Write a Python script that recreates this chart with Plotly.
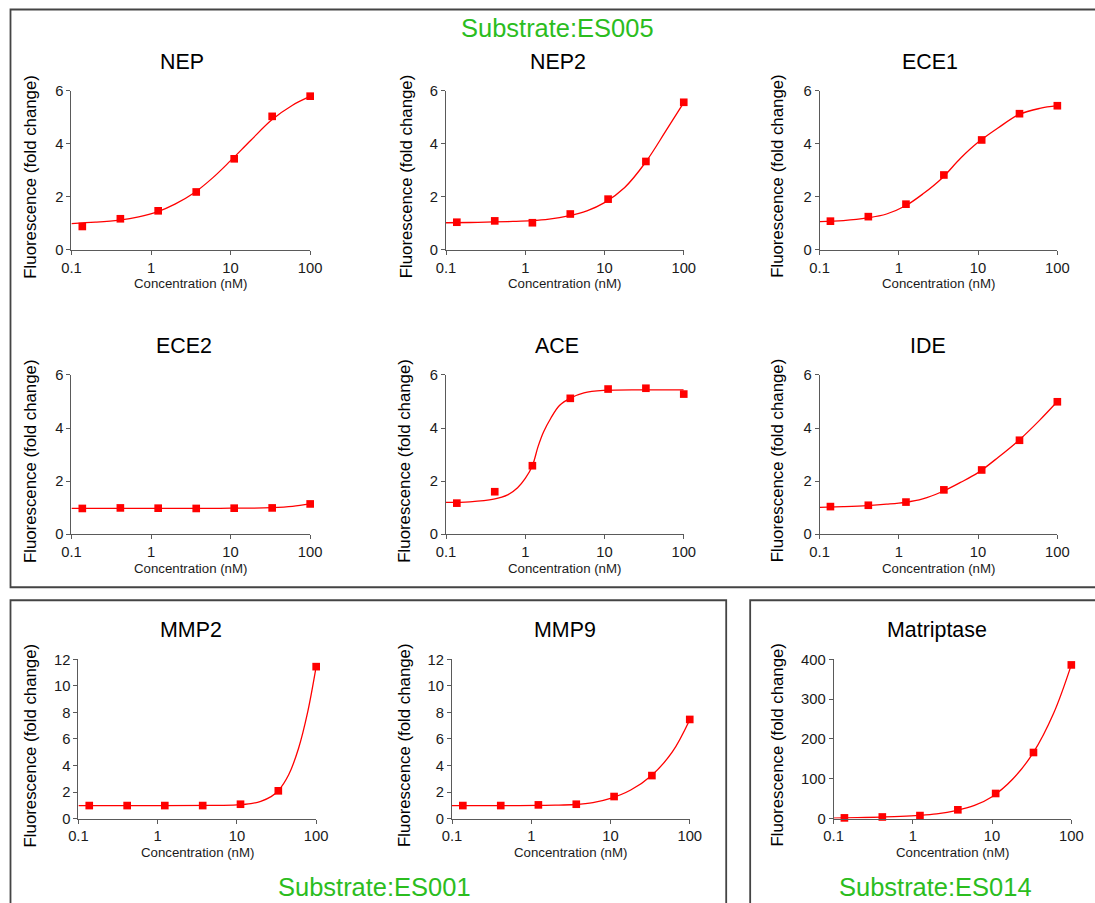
import plotly.graph_objects as go

# ---------------- data ----------------
CONC = [0.137, 0.412, 1.23, 3.70, 11.1, 33.3, 100]
FIT_X = [0.1, 0.2, 0.4, 0.7, 1.2, 2, 3.5, 6, 10, 18, 33, 60, 100]

NEP_Y = [0.88, 1.17, 1.47, 2.18, 3.43, 5.03, 5.79]
NEP_FIT = [0.99, 1.04, 1.12, 1.24, 1.43, 1.72, 2.15, 2.72, 3.36, 4.13, 4.90, 5.45, 5.78]

NEP2_Y = [1.04, 1.09, 1.02, 1.35, 1.91, 3.33, 5.56]
NEP2_FIT = [1.02, 1.03, 1.05, 1.07, 1.10, 1.16, 1.28, 1.47, 1.78, 2.35, 3.30, 4.50, 5.55]

ECE1_Y = [1.08, 1.25, 1.72, 2.82, 4.14, 5.13, 5.43]
ECE1_FIT = [1.06, 1.10, 1.20, 1.35, 1.65, 2.10, 2.70, 3.45, 4.05, 4.60, 5.10, 5.33, 5.43]

ECE2_Y = [0.97, 0.99, 0.98, 0.97, 0.98, 0.99, 1.14]
ECE2_FIT = [0.97, 0.97, 0.97, 0.97, 0.97, 0.97, 0.97, 0.97, 0.98, 0.98, 1.00, 1.05, 1.14]

ACE_Y = [1.17, 1.60, 2.58, 5.12, 5.47, 5.50, 5.28]
ACE_FIT_X = [0.1, 0.2, 0.4, 0.6, 0.8, 1.0, 1.23, 1.45, 1.7, 2.1, 2.7, 3.7, 5.5, 10, 30, 100]
ACE_FIT = [1.20, 1.22, 1.32, 1.48, 1.75, 2.10, 2.58, 3.30, 3.85, 4.37, 4.85, 5.13, 5.33, 5.42, 5.44, 5.44]

IDE_Y = [1.04, 1.09, 1.21, 1.67, 2.42, 3.54, 4.99]
IDE_FIT = [1.01, 1.04, 1.08, 1.13, 1.20, 1.33, 1.60, 1.95, 2.32, 2.90, 3.55, 4.30, 5.00]

MMP2_Y = [0.98, 0.98, 0.98, 0.98, 1.08, 2.09, 11.45]
MMP2_FIT_X = [0.1, 1, 5, 10, 15, 20, 27, 33.3, 45, 60, 78, 100]
MMP2_FIT = [0.98, 0.98, 0.99, 1.03, 1.12, 1.30, 1.65, 2.10, 3.30, 5.30, 8.00, 11.45]

MMP9_Y = [0.98, 0.98, 1.03, 1.08, 1.66, 3.24, 7.47]
MMP9_FIT = [0.97, 0.97, 0.98, 0.98, 0.99, 1.01, 1.06, 1.20, 1.52, 2.15, 3.25, 5.00, 7.45]

MATRIPTASE_Y = [1.7, 4.0, 7.5, 22, 63, 166, 386]
MATRIPTASE_FIT = [1.3, 2.2, 3.7, 5.3, 7.8, 11.8, 20, 33, 55, 98, 165, 265, 386]

X_TICKS = [0.1, 1, 10, 100]
X_TICK_TEXT = ["0.1", "1", "10", "100"]
Y_TICKS_6 = [0, 2, 4, 6]
Y_TICKS_12 = [0, 2, 4, 6, 8, 10, 12]
Y_TICKS_400 = [0, 100, 200, 300, 400]

PANEL_NAMES = ["NEP", "NEP2", "ECE1", "ECE2", "ACE", "IDE", "MMP2", "MMP9", "Matriptase"]
SUBSTRATES = ["Substrate:ES005", "Substrate:ES001", "Substrate:ES014"]
X_TITLE = "Concentration (nM)"
Y_TITLE = "Fluorescence (fold change)"

panel_data = [
    (NEP_Y, FIT_X, NEP_FIT, Y_TICKS_6),
    (NEP2_Y, FIT_X, NEP2_FIT, Y_TICKS_6),
    (ECE1_Y, FIT_X, ECE1_FIT, Y_TICKS_6),
    (ECE2_Y, FIT_X, ECE2_FIT, Y_TICKS_6),
    (ACE_Y, ACE_FIT_X, ACE_FIT, Y_TICKS_6),
    (IDE_Y, FIT_X, IDE_FIT, Y_TICKS_6),
    (MMP2_Y, MMP2_FIT_X, MMP2_FIT, Y_TICKS_12),
    (MMP9_Y, FIT_X, MMP9_FIT, Y_TICKS_12),
    (MATRIPTASE_Y, FIT_X, MATRIPTASE_FIT, Y_TICKS_400),
]

# ---------------- layout geometry ----------------
W, H = 1095, 903
# positions below are in reference-image pixels; mapped to page pixels
SHIFT, SCALE = 8.5, 0.981

def page(v):
    return (v - SHIFT) / SCALE

def px(x):
    return page(x) / W

def py(y):
    return 1 - page(y) / H

def fs(s):
    return s / SCALE

# (x_left, x_right, y_top, y_bottom, title_x, ytitle_x)
geom = [
    (70, 309, 91, 250, 181, 29),
    (445, 683, 91, 250, 557, 405),
    (819, 1057, 91, 250, 930, 777),
    (70, 309, 375, 534, 183, 29),
    (445, 683, 375, 534, 556, 404),
    (819, 1057, 375, 534, 928, 777),
    (77, 315, 659, 818, 190, 29),
    (451, 689, 659, 818, 564, 404),
    (833, 1071, 659, 818, 937, 777),
]

FONT = "Liberation Sans, Arial, Helvetica, sans-serif"
RED = "#ff0000"
AXC = "#5a5a5a"
TXT = "#1a1a1a"
GREEN = "#2bbd1e"

fig = go.Figure()
annotations = []
layout_axes = {}

for i, ((yv, fx, fy, yt), (x0, x1, y0, y1, tx, ytx)) in enumerate(zip(panel_data, geom)):
    n = i + 1
    xa = "x" if n == 1 else f"x{n}"
    ya = "y" if n == 1 else f"y{n}"
    fig.add_trace(go.Scatter(x=fx, y=fy, mode="lines", xaxis=xa, yaxis=ya,
                             line=dict(color=RED, width=1.3, shape="spline", smoothing=1.0),
                             hoverinfo="skip", showlegend=False, cliponaxis=False))
    fig.add_trace(go.Scatter(x=CONC, y=yv, mode="markers", xaxis=xa, yaxis=ya,
                             marker=dict(symbol="square", size=fs(7.5), color=RED),
                             showlegend=False, cliponaxis=False))
    xkey = "xaxis" if n == 1 else f"xaxis{n}"
    ykey = "yaxis" if n == 1 else f"yaxis{n}"
    layout_axes[xkey] = dict(
        type="log", range=[-1, 2], domain=[px(x0), px(x1)], anchor=ya,
        tickvals=X_TICKS, ticktext=X_TICK_TEXT, ticks="outside", ticklen=4,
        tickcolor=AXC, showline=True, linecolor=AXC, linewidth=1,
        showgrid=False, zeroline=False,
        tickfont=dict(family=FONT, size=fs(14.5), color=TXT),
    )
    layout_axes[ykey] = dict(
        range=[yt[0], yt[-1]], domain=[py(y1), py(y0)], anchor=xa,
        tickvals=yt, ticks="outside", ticklen=4,
        tickcolor=AXC, showline=True, linecolor=AXC, linewidth=1,
        showgrid=False, zeroline=False,
        tickfont=dict(family=FONT, size=fs(14.5), color=TXT),
    )
    annotations.append(dict(text=PANEL_NAMES[i], x=px(tx), y=py(y0 - 29), xref="paper", yref="paper",
                            showarrow=False, xanchor="center", yanchor="middle",
                            font=dict(family=FONT, size=fs(21), color="#000")))
    annotations.append(dict(text=X_TITLE, x=px((x0 + x1) / 2), y=py(y1 + 34), xref="paper", yref="paper",
                            showarrow=False, xanchor="center", yanchor="middle",
                            font=dict(family=FONT, size=fs(13), color=TXT)))
    annotations.append(dict(text=Y_TITLE, x=px(ytx), y=py((y0 + y1) / 2 + 6), xref="paper", yref="paper",
                            showarrow=False, xanchor="center", yanchor="middle", textangle=-90,
                            font=dict(family=FONT, size=fs(16.5), color="#000")))

for text, (cx, cy) in zip(SUBSTRATES, [(557, 28), (373, 886), (935, 886)]):
    annotations.append(dict(text=text, x=px(cx), y=py(cy), xref="paper", yref="paper",
                            showarrow=False, xanchor="center", yanchor="middle",
                            font=dict(family=FONT, size=fs(25), color=GREEN)))

BOXC = "#444444"
shapes = []
for (bx0, by0, bx1, by1) in [(9.0, 10, 1120, 587), (9.0, 600, 725.5, 925), (749.5, 600, 1120, 925)]:
    shapes.append(dict(type="rect", xref="paper", yref="paper",
                       x0=px(bx0), x1=px(bx1), y0=py(by1), y1=py(by0),
                       line=dict(color=BOXC, width=1.8), fillcolor="rgba(0,0,0,0)"))

fig.update_layout(
    width=W, height=H, margin=dict(l=0, r=0, t=0, b=0),
    paper_bgcolor="white", plot_bgcolor="white",
    annotations=annotations, shapes=shapes, showlegend=False,
    **layout_axes,
)

fig.write_html(
    "out.html",
    config={"displayModeBar": False},
    post_script=("document.body.style.margin='0px';"
                 "document.documentElement.style.overflow='hidden';"
                 "document.body.style.overflow='hidden';"),
)
